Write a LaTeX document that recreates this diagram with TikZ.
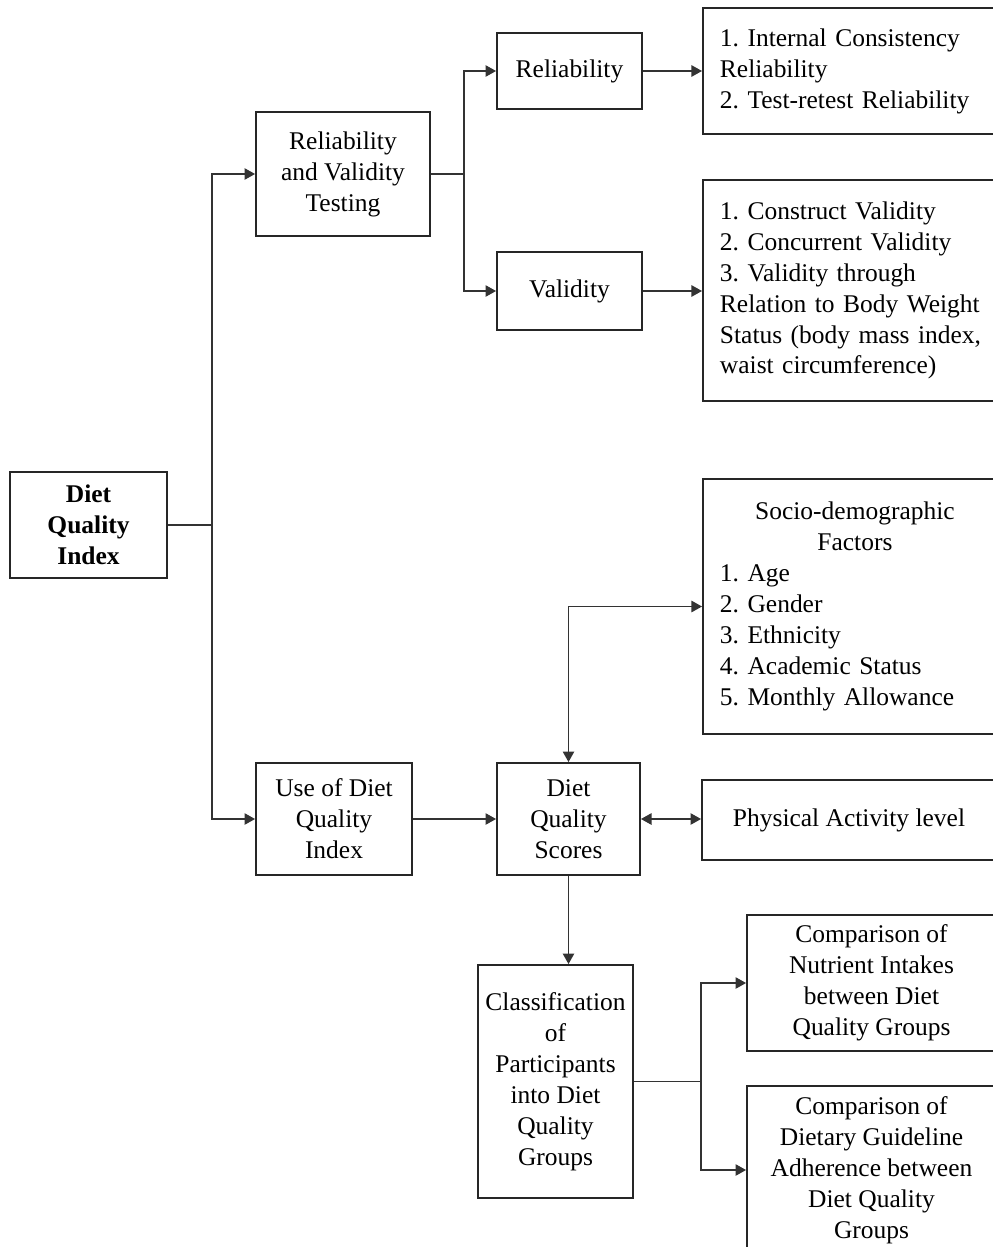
\documentclass[tikz,border=0pt]{standalone}
\usepackage{fontspec}
\setmainfont{Liberation Serif}
\usetikzlibrary{arrows.meta}
\newcommand{\dqfont}{\fontsize{14.5}{17.6}\selectfont}
\frenchspacing

\begin{document}
\begin{tikzpicture}[x=0.02cm,y=-0.02cm,font=\dqfont]
\tikzstyle{box}=[draw=black!85, line width=1.1pt, align=center, inner sep=0pt]
\tikzstyle{listbox}=[draw=black!85, line width=1.1pt, anchor=west, text width=5.4cm, inner xsep=0.34cm, inner ysep=0pt, execute at begin node=\raggedright]
\tikzstyle{link}=[draw=black!80, line width=0.75pt, >={Triangle[length=6pt,width=6.5pt]}]
\useasboundingbox (0,0) rectangle (993,1247);
\clip (0,0) rectangle (993,1247);
% left part
\node[box, minimum width=3.14cm, minimum height=2.12cm, font=\dqfont\bfseries] (dqi) at (88.5,525) {Diet\\Quality\\Index};
\node[box, minimum width=3.48cm, minimum height=2.48cm] (rvt) at (343,174) {Reliability\\and Validity\\Testing};
\node[box, minimum width=3.12cm, minimum height=2.24cm] (usedqi) at (334,819) {Use of Diet\\Quality\\Index};
% middle column
\node[box, minimum width=2.9cm, minimum height=1.52cm] (rel) at (569.5,71) {Reliability};
\node[box, minimum width=2.9cm, minimum height=1.56cm] (val) at (569.5,291) {Validity};
\node[box, minimum width=2.86cm, minimum height=2.24cm] (dqs) at (568.5,819) {Diet\\Quality\\Scores};
\node[box, minimum width=3.1cm, minimum height=4.66cm] (classif) at (555.5,1081.5) {Classification\\of\\Participants\\into Diet\\Quality\\Groups};
% right column
\node[listbox, minimum height=2.52cm] (rellist) at (702,71) {1. Internal Consistency\\Reliability\\2. Test-retest Reliability};
\node[listbox, minimum height=4.42cm] (vallist) at (702,290.5) {1. Construct Validity\\2. Concurrent Validity\\3. Validity through\\Relation to Body Weight\\Status (body mass index,\\waist circumference)};
\node[listbox, minimum height=5.1cm] (socio) at (702,606.5) {{\centering Socio-demographic\\Factors\par}1. Age\\2. Gender\\3. Ethnicity\\4. Academic Status\\5. Monthly Allowance};
\node[box, minimum width=5.88cm, minimum height=1.6cm] (pa) at (849,820) {Physical Activity level};
\node[box, minimum width=4.98cm, minimum height=2.72cm] (compni) at (871.5,983) {Comparison of\\Nutrient Intakes\\between Diet\\Quality Groups};
\node[box, minimum width=4.98cm, minimum height=3.36cm] (compdg) at (871.5,1170) {Comparison of\\Dietary Guideline\\Adherence between\\Diet Quality\\Groups};
% connectors
\coordinate (trunk) at (212,525);
\draw[link] (dqi.east) -- (trunk);
\draw[link,->] (trunk) |- (rvt.west);
\draw[link,->] (trunk) |- (usedqi.west);
\coordinate (split1) at (464,174);
\draw[link] (rvt.east) -- (split1);
\draw[link,->] (split1) |- (rel.west);
\draw[link,->] (split1) |- (val.west);
\draw[link,->] (rel.east) -- (rellist.west |- rel.east);
\draw[link,->] (val.east) -- (vallist.west |- val.east);
\draw[link,->] (usedqi.east) -- (dqs.west |- usedqi.east);
\draw[link,<->] (dqs.east) -- (pa.west |- dqs.east);
\draw[link,<->] (dqs.north) |- (socio.west);
\draw[link,->] (dqs.south) -- (dqs.south |- classif.north);
\coordinate (split2) at (701,1081.5);
\draw[link] (classif.east) -- (split2);
\draw[link,->] (split2) |- (compni.west);
\draw[link,->] (split2) |- (compdg.west);
\end{tikzpicture}
\end{document}
